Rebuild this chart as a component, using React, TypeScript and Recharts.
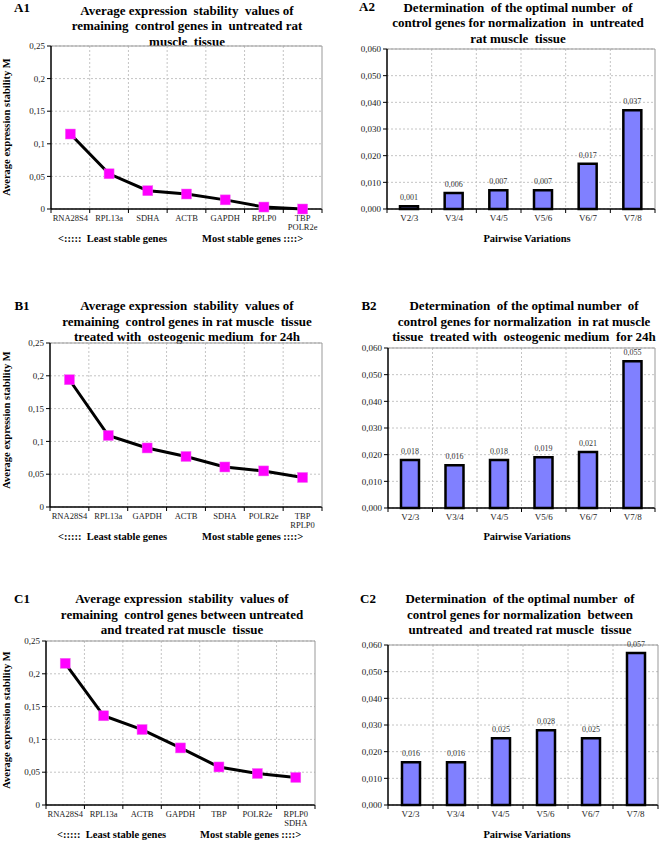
import React from 'react';
import {
    LineChart, Line, BarChart, Bar, XAxis, YAxis, CartesianGrid, LabelList, ReferenceLine
} from 'recharts';

const FONT = '"Liberation Serif", "Times New Roman", serif';

// A1: untreated
const genesA1 = ['RNA28S4', 'RPL13a', 'SDHA', 'ACTB', 'GAPDH', 'RPLP0', 'TBP\nPOLR2e'];
const stabilityA1 = [0.115, 0.054, 0.028, 0.023, 0.014, 0.003, 0.0];
// B1: osteogenic medium 24h
const genesB1 = ['RNA28S4', 'RPL13a', 'GAPDH', 'ACTB', 'SDHA', 'POLR2e', 'TBP\nRPLP0'];
const stabilityB1 = [0.194, 0.109, 0.090, 0.077, 0.061, 0.055, 0.045];
// C1: untreated vs treated
const genesC1 = ['RNA28S4', 'RPL13a', 'ACTB', 'GAPDH', 'TBP', 'POLR2e', 'RPLP0\nSDHA'];
const stabilityC1 = [0.216, 0.136, 0.115, 0.087, 0.058, 0.048, 0.042];

const pairs = ['V2/3', 'V3/4', 'V4/5', 'V5/6', 'V6/7', 'V7/8'];
const variationA2 = [0.001, 0.006, 0.007, 0.007, 0.017, 0.037];
const variationB2 = [0.018, 0.016, 0.018, 0.019, 0.021, 0.055];
const variationC2 = [0.016, 0.016, 0.025, 0.028, 0.025, 0.057];

const stabilityTicks = [0, 0.05, 0.1, 0.15, 0.2, 0.25];
const variationTicks = [0, 0.01, 0.02, 0.03, 0.04, 0.05, 0.06];

const titleA1 = ['Average expression  stability  values of', 'remaining  control genes in  untreated rat', 'muscle  tissue'];
const titleA2 = ['Determination  of the optimal number  of', 'control genes for normalization  in  untreated', 'rat muscle  tissue'];
const titleB1 = ['Average expression  stability  values of', 'remaining  control genes in rat muscle  tissue', 'treated with  osteogenic medium  for 24h'];
const titleB2 = ['Determination  of the optimal number  of', 'control genes for normalization  in rat muscle', 'tissue  treated with  osteogenic medium  for 24h'];
const titleC1 = ['Average expression  stability  values of', 'remaining  control genes between untreated', 'and treated rat muscle  tissue'];
const titleC2 = ['Determination  of the optimal number  of', 'control genes for normalization  between', 'untreated  and treated rat muscle  tissue'];

const commaFmt = (v: number) => String(v).replace('.', ',');
const fmt3 = (v: number) => Number(v).toFixed(3).replace('.', ',');

type Box = { x0: number; L: number; R: number; T: number; B: number };

const Txt = ({ x, y, size, bold, align, rotate, children }: any) => (
    <div style={{
        position: 'absolute', left: x, top: y,
        transform: `translate(${align === 'left' ? '0' : '-50%'},-50%)${rotate ? ' rotate(-90deg)' : ''}`,
        fontFamily: FONT, fontSize: size, fontWeight: bold ? 'bold' : 'normal',
        whiteSpace: 'pre', lineHeight: 1, color: '#000'
    }}>{children}</div>
);

const Title = ({ cx, ys, lines }: { cx: number, ys: number[], lines: string[] }) => (
    <>
        {lines.map((l, i) => <Txt key={i} x={cx} y={ys[i]} size={13} bold>{l}</Txt>)}
    </>
);

// category label plus the small tick marks sitting on the category boundaries
const CatTick = ({ x, y, payload, index, step, count, size }: any) => {
    const lines = String(payload.value).split('\n');
    const axisY = y - 8;
    return (
        <g>
            <line x1={x - step / 2} x2={x - step / 2} y1={axisY} y2={axisY + 4} stroke="#000" />
            {index === count - 1 && <line x1={x + step / 2} x2={x + step / 2} y1={axisY} y2={axisY + 4} stroke="#000" />}
            <text x={x} y={axisY} textAnchor="middle" fontSize={size} fill="#222" fontFamily={FONT}>
                {lines.map((l, i) => <tspan key={i} x={x} dy={i === 0 ? 12 : 9}>{l}</tspan>)}
            </text>
        </g>
    );
};

const BarValue = ({ x, y, width, value }: any) => (
    <text x={x + width / 2} y={y - 6} textAnchor="middle" fontSize={8} fill="#333" fontFamily={FONT}>
        {fmt3(value)}
    </text>
);

const SquareDot = ({ cx, cy, index }: any) => (
    <rect key={`d-${index}`} x={cx - 5} y={cy - 5} width={10} height={10} fill="#FF00FF" stroke="#F070F0" strokeWidth={0.5} />
);

const boundaryGrid = (n: number) => ({ offset }: any) =>
    Array.from({ length: n - 1 }, (_, i) => offset.left + (i + 1) * offset.width / n);

const StabilityChart = ({ genes, values, box }: { genes: string[], values: number[], box: Box }) => {
    const data = genes.map((g, i) => ({ gene: g, m: values[i] }));
    const top = 10;
    const step = (box.R - box.L) / genes.length;
    return (
        <div style={{ position: 'absolute', left: box.x0, top: box.T - top }}>
            <LineChart width={330} height={box.B - box.T + top + 34} data={data}
                margin={{ top, right: box.x0 + 330 - box.R - 1, bottom: 4, left: 0 }}>
                <CartesianGrid stroke="#c4c4c4" strokeDasharray="2 2" verticalCoordinatesGenerator={boundaryGrid(genes.length)} />
                <XAxis dataKey="gene" height={30} interval={0} padding={{ left: step / 2, right: step / 2 }}
                    axisLine={{ stroke: '#000', strokeWidth: 1.5 }} tickLine={false}
                    tick={(p: any) => <CatTick {...p} step={step} count={genes.length} size={8.5} />} />
                <YAxis width={box.L - box.x0} domain={[0, 0.25]} ticks={stabilityTicks} tickFormatter={commaFmt}
                    axisLine={{ stroke: '#000', strokeWidth: 1.5 }} tickLine={{ stroke: '#000' }} tickSize={4}
                    tick={{ fontSize: 9, fill: '#222', fontFamily: FONT }} />
                <YAxis yAxisId="r" orientation="right" width={1} domain={[0, 1]} tick={false} tickLine={false} axisLine={{ stroke: '#999' }} />
                <ReferenceLine y={0.25} stroke="#999" />
                <Line dataKey="m" stroke="#000" strokeWidth={3} dot={SquareDot} isAnimationActive={false} />
            </LineChart>
        </div>
    );
};

const VariationChart = ({ values, box }: { values: number[], box: Box }) => {
    const data = pairs.map((p, i) => ({ pair: p, v: values[i] }));
    const top = 10;
    const step = (box.R - box.L) / pairs.length;
    return (
        <div style={{ position: 'absolute', left: box.x0, top: box.T - top }}>
            <BarChart width={330} height={box.B - box.T + top + 34} data={data}
                margin={{ top, right: box.x0 + 330 - box.R - 1, bottom: 4, left: 0 }}>
                <CartesianGrid stroke="#c4c4c4" strokeDasharray="2 2" verticalCoordinatesGenerator={boundaryGrid(pairs.length)} />
                <XAxis dataKey="pair" height={30} interval={0} axisLine={{ stroke: '#000', strokeWidth: 1.5 }} tickLine={false}
                    tick={(p: any) => <CatTick {...p} step={step} count={pairs.length} size={9} />} />
                <YAxis width={box.L - box.x0} domain={[0, 0.06]} ticks={variationTicks} tickFormatter={fmt3}
                    axisLine={{ stroke: '#000', strokeWidth: 1.5 }} tickLine={{ stroke: '#000' }} tickSize={4}
                    tick={{ fontSize: 9, fill: '#222', fontFamily: FONT }} />
                <YAxis yAxisId="r" orientation="right" width={1} domain={[0, 1]} tick={false} tickLine={false} axisLine={{ stroke: '#999' }} />
                <ReferenceLine y={0.06} stroke="#999" />
                <Bar dataKey="v" fill="#8080FF" stroke="#000" strokeWidth={2.5} barSize={18} isAnimationActive={false}>
                    <LabelList dataKey="v" content={BarValue} />
                </Bar>
            </BarChart>
        </div>
    );
};

const StableLegend = ({ y, x1, x2 }: { y: number, x1: number, x2: number }) => (
    <>
        <Txt x={x1} y={y} size={10.5} bold align="left">{'<:::::  Least stable genes'}</Txt>
        <Txt x={x2} y={y} size={10.5} bold align="left">{'Most stable genes ::::>'}</Txt>
    </>
);

export default function App() {
    const A1: Box = { x0: 0, L: 51, R: 322, T: 46, B: 209 };
    const A2: Box = { x0: 330, L: 387, R: 655, T: 49, B: 209 };
    const B1: Box = { x0: 0, L: 50, R: 322, T: 343, B: 507 };
    const B2: Box = { x0: 330, L: 388, R: 655, T: 348, B: 508 };
    const C1: Box = { x0: 0, L: 46, R: 315, T: 641, B: 805 };
    const C2: Box = { x0: 330, L: 388, R: 658, T: 645, B: 805 };
    return (
        <div style={{ position: 'absolute', left: 0, top: 0, width: 660, height: 842, background: '#fff', overflow: 'hidden' }}>
            <Txt x={22} y={7} size={13} bold>A1</Txt>
            <Title cx={187} ys={[10, 25, 41]} lines={titleA1} />
            <StabilityChart genes={genesA1} values={stabilityA1} box={A1} />
            <Txt x={7} y={127} size={10.5} bold rotate>Average expression stability M</Txt>
            <StableLegend y={239} x1={58} x2={202} />

            <Txt x={367} y={6} size={13} bold>A2</Txt>
            <Title cx={518} ys={[7, 22, 38]} lines={titleA2} />
            <VariationChart values={variationA2} box={A2} />
            <Txt x={527} y={239} size={10.5} bold>Pairwise Variations</Txt>

            <Txt x={22} y={305} size={13} bold>B1</Txt>
            <Title cx={187} ys={[305, 321, 336]} lines={titleB1} />
            <StabilityChart genes={genesB1} values={stabilityB1} box={B1} />
            <Txt x={7} y={420} size={10.5} bold rotate>Average expression stability M</Txt>
            <StableLegend y={537} x1={58} x2={202} />

            <Txt x={369} y={305} size={13} bold>B2</Txt>
            <Title cx={524} ys={[305, 321, 336]} lines={titleB2} />
            <VariationChart values={variationB2} box={B2} />
            <Txt x={527} y={537} size={10.5} bold>Pairwise Variations</Txt>

            <Txt x={22} y={598} size={13} bold>C1</Txt>
            <Title cx={182} ys={[598, 614, 629]} lines={titleC1} />
            <StabilityChart genes={genesC1} values={stabilityC1} box={C1} />
            <Txt x={7} y={720} size={10.5} bold rotate>Average expression stability M</Txt>
            <StableLegend y={835} x1={57} x2={200} />

            <Txt x={368} y={598} size={13} bold>C2</Txt>
            <Title cx={520} ys={[598, 614, 629]} lines={titleC2} />
            <VariationChart values={variationC2} box={C2} />
            <Txt x={527} y={835} size={10.5} bold>Pairwise Variations</Txt>
        </div>
    );
}
